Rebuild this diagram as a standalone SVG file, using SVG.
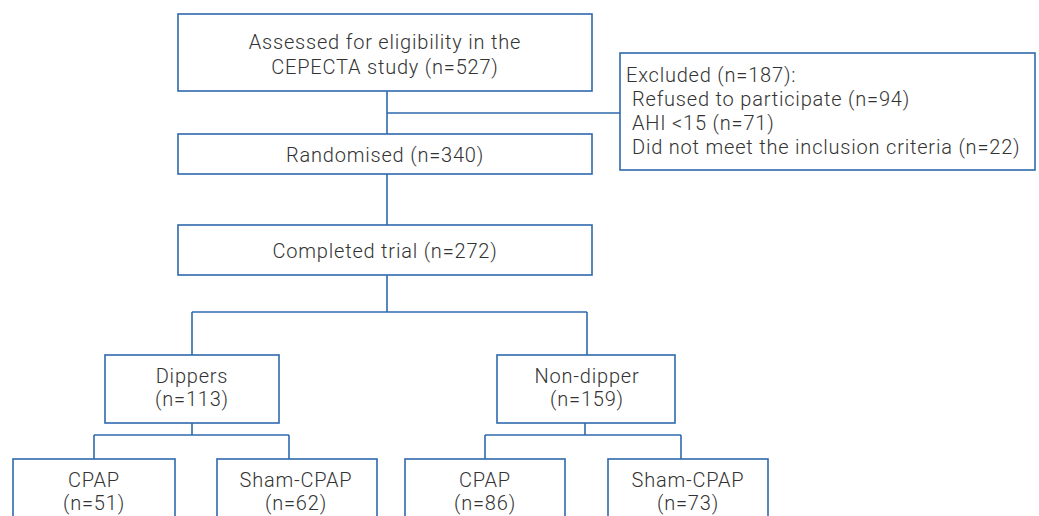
<svg xmlns="http://www.w3.org/2000/svg" width="1039" height="516" viewBox="0 0 1039 516">
<style>
.box{fill:#fff;stroke:#2f69ad;stroke-width:1.6}
.ln{fill:none;stroke:#2f69ad;stroke-width:1.6}
text{font-family:Roboto,"Liberation Sans",sans-serif;font-size:20px;fill:#333;font-weight:300;letter-spacing:0.8px}
.c{text-anchor:middle}
</style>
<rect width="1039" height="516" fill="#fff"/>
<g id="connectors">
<path class="ln" d="M387 91V134M387 113H620M387 174V225M387 275V312M192 312H587M192 312V355M587 312V355M192 423V435M94 435H289M94 435V459M289 435V459M585 423V435M485 435H681M485 435V459M681 435V459"/>
</g>
<g id="assessed"><rect class="box" x="178" y="14" width="414" height="77"/><text class="c" x="385" y="49">Assessed for eligibility in the</text><text class="c" x="385" y="74">CEPECTA study (n=527)</text></g>
<g id="excluded"><rect class="box" x="620" y="53" width="415" height="117"/>
<text x="626" y="82">Excluded (n=187):</text>
<text x="632" y="106">Refused to participate (n=94)</text>
<text x="632" y="130">AHI &lt;15 (n=71)</text>
<text x="632" y="154">Did not meet the inclusion criteria (n=22)</text></g>
<g id="randomised"><rect class="box" x="178" y="134" width="414" height="40"/><text class="c" x="385" y="162">Randomised (n=340)</text></g>
<g id="completed"><rect class="box" x="178" y="225" width="414" height="50"/><text class="c" x="385" y="258">Completed trial (n=272)</text></g>
<g id="dippers"><rect class="box" x="105" y="355" width="174" height="68"/><text class="c" x="192" y="383">Dippers</text><text class="c" x="192" y="406">(n=113)</text></g>
<g id="nondipper"><rect class="box" x="497" y="355" width="178" height="68"/><text class="c" x="587" y="383">Non-dipper</text><text class="c" x="587" y="406">(n=159)</text></g>
<g id="cpap1"><rect class="box" x="13" y="459" width="162" height="80"/><text class="c" x="94" y="487">CPAP</text><text class="c" x="94" y="510">(n=51)</text></g>
<g id="sham1"><rect class="box" x="217" y="459" width="160" height="80"/><text class="c" x="296" y="487">Sham-CPAP</text><text class="c" x="296" y="510">(n=62)</text></g>
<g id="cpap2"><rect class="box" x="405" y="459" width="160" height="80"/><text class="c" x="485" y="487">CPAP</text><text class="c" x="485" y="510">(n=86)</text></g>
<g id="sham2"><rect class="box" x="608" y="459" width="160" height="80"/><text class="c" x="688" y="487">Sham-CPAP</text><text class="c" x="688" y="510">(n=73)</text></g>
</svg>
